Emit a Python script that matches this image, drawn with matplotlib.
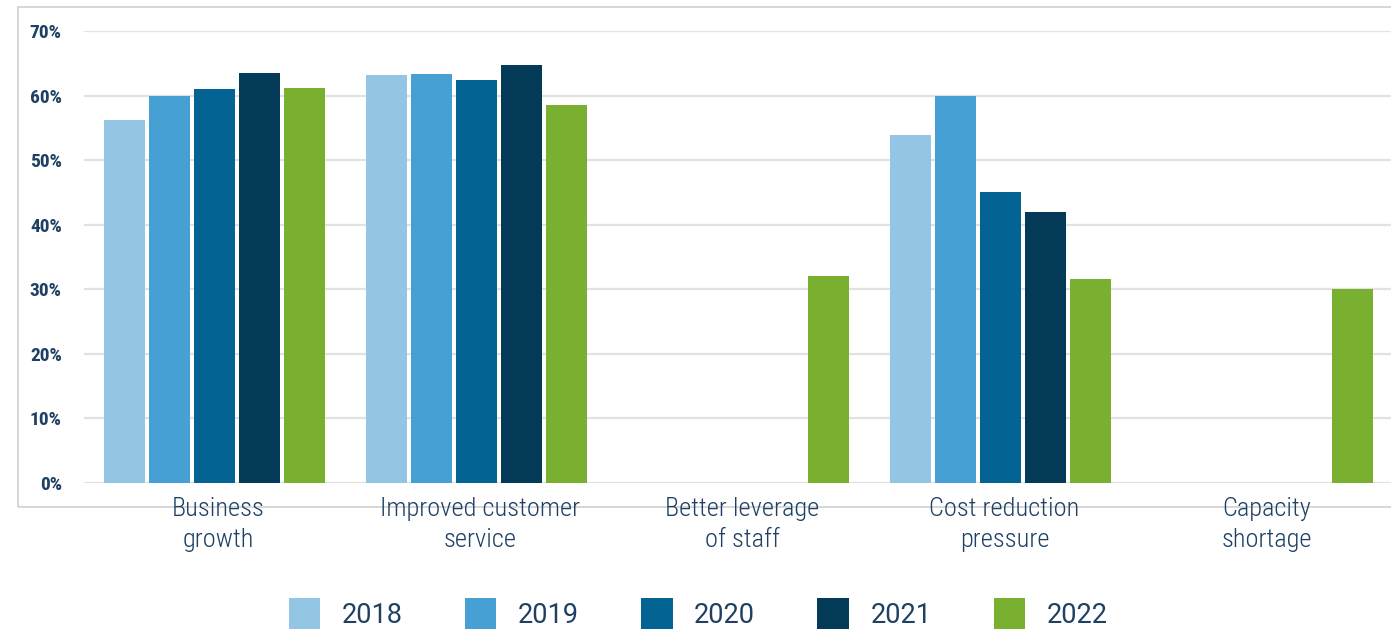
import numpy as np
import matplotlib.pyplot as plt
import matplotlib.transforms as mtransforms
from matplotlib.patches import Rectangle, Patch

categories = ["Business\ngrowth", "Improved customer\nservice", "Better leverage\nof staff",
              "Cost reduction\npressure", "Capacity\nshortage"]
years = ["2018", "2019", "2020", "2021", "2022"]
v2018 = [56.2, 63.2, np.nan, 53.9, np.nan]
v2019 = [59.9, 63.3, np.nan, 59.9, np.nan]
v2020 = [61.0, 62.4, np.nan, 45.1, np.nan]
v2021 = [63.5, 64.7, np.nan, 42.0, np.nan]
v2022 = [61.2, 58.5, 32.1, 31.6, 30.0]
series = [v2018, v2019, v2020, v2021, v2022]
colors = ["#93c6e4", "#46a0d3", "#036494", "#033a57", "#7ab030"]
text_color = "#1f4064"

fig = plt.figure(figsize=(13.91, 6.31), dpi=100)
ax = fig.add_axes([84 / 1391, 1 - 483 / 631, 1 - 84 / 1391, (483 - 31) / 631])

# outer frame
fig.add_artist(Rectangle((18 / 1391, 1 - 507 / 631), 1.2, 500 / 631,
                         transform=fig.transFigure, fill=False,
                         edgecolor="#cfcfcf", linewidth=1.2, zorder=0))

x = np.arange(len(categories))
step = 45 / 262
width = 41 / 262
for i, vals in enumerate(series):
    ax.bar(x + (i - 2) * step, vals, width=width, color=colors[i], zorder=3)

ax.set_xlim((84 - 214.5) / 262, (1391 - 214.5) / 262)
ax.set_ylim(0, 70)
ax.set_yticks(np.arange(0, 71, 10))
ax.set_yticklabels([f"{v}%" for v in range(0, 71, 10)])
ax.grid(axis="y", color="#e2e2e2", linewidth=1.6, zorder=0)
ax.set_xticks(x)
ax.set_xticklabels(categories)
ax.tick_params(axis="both", length=0)
ax.tick_params(axis="y", pad=16, labelsize=14, labelcolor=text_color)
ax.tick_params(axis="x", pad=10, labelsize=19, labelcolor=text_color)
for lab in ax.get_yticklabels():
    lab.set_fontfamily(["Roboto Condensed", "Roboto", "DejaVu Sans"])
    lab.set_fontweight("bold")
shift = mtransforms.ScaledTranslation(4 / 100, 0, fig.dpi_scale_trans)
for lab in ax.get_xticklabels():
    lab.set_fontfamily(["Roboto Condensed", "Roboto", "DejaVu Sans"])
    lab.set_fontweight("light")
    lab.set_linespacing(1.4)
    lab.set_transform(lab.get_transform() + shift)
for s in ax.spines.values():
    s.set_visible(False)
ax.set_facecolor("none")

handles = [Patch(facecolor=c, edgecolor="none") for c in colors]
leg = fig.legend(handles, years, loc="lower center", bbox_to_anchor=(0.502, -0.036),
                 ncol=5, frameon=False, prop={"family": "Roboto", "size": 19.5},
                 handlelength=1.15, handleheight=1.4, handletextpad=0.8,
                 columnspacing=2.3)
for t in leg.get_texts():
    t.set_color(text_color)

fig.savefig("out.png", dpi=100)
